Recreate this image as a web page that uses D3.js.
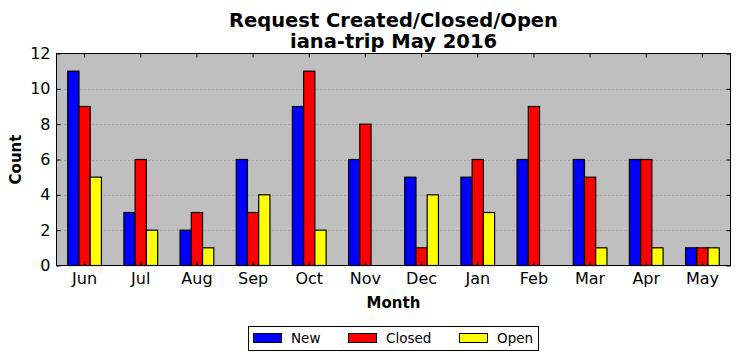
<!DOCTYPE html>
<html><head><meta charset="utf-8">
<script src="https://cdn.jsdelivr.net/npm/d3@7/dist/d3.min.js"></script>
<style>body{margin:0;background:#fff}svg{display:block;font-family:"DejaVu Sans",sans-serif}</style>
</head><body>
<svg id="c" width="740" height="361"></svg>
<script>
const months = ["Jun","Jul","Aug","Sep","Oct","Nov","Dec","Jan","Feb","Mar","Apr","May"];
const newVals    = [11, 3, 2, 6, 9, 6, 5, 5, 6, 6, 6, 1];
const closedVals = [ 9, 6, 3, 3,11, 8, 1, 6, 9, 5, 6, 1];
const openVals   = [ 5, 2, 1, 4, 2, 0, 4, 3, 0, 1, 1, 1];
const seriesNames = ["New","Closed","Open"];
const seriesColors = ["#0000ff","#ff0000","#ffff00"];
const yTicks = [0,2,4,6,8,10,12];
const titleLines = ["Request Created/Closed/Open","iana-trip May 2016"];

const svg = d3.select("#c");
const L=56.5, R=730.5, T=53.5, B=265.5;
const x = d3.scaleBand().domain(months).range([L,R]).paddingInner(0.4).paddingOuter(0.2);
const xs = d3.scaleBand().domain(seriesNames).range([0,x.bandwidth()]);
const y = d3.scaleLinear().domain([0,12]).range([B,T]);
const series = [newVals, closedVals, openVals];

svg.append("rect").attr("x",L).attr("y",T).attr("width",R-L).attr("height",B-T).attr("fill","#bfbfbf");
// grid
svg.append("g").selectAll("line").data(yTicks.filter(d=>d>0&&d<12)).join("line")
  .attr("x1",L).attr("x2",R).attr("y1",d=>Math.round(y(d))+0.5).attr("y2",d=>Math.round(y(d))+0.5)
  .attr("stroke","#8a8a8a").attr("stroke-width",1).attr("stroke-dasharray","1,3");
// bars
series.forEach((vals,si)=>{
  svg.append("g").selectAll("rect").data(vals).join("rect")
    .attr("x",(d,i)=>x(months[i])+xs(seriesNames[si]))
    .attr("y",d=>y(d)).attr("width",xs.bandwidth()).attr("height",d=>B-y(d))
    .attr("fill",seriesColors[si]).attr("stroke","#000").attr("stroke-width",1.2);
});
// axes
const xA = svg.append("g").attr("transform",`translate(0,${B})`)
  .call(d3.axisBottom(x).tickSizeInner(-4).tickSizeOuter(0).tickPadding(7));
const xT = svg.append("g").attr("transform",`translate(0,${T})`)
  .call(d3.axisTop(x).tickSizeInner(-4).tickSizeOuter(0).tickFormat(""));
const yA = svg.append("g").attr("transform",`translate(${L},0)`)
  .call(d3.axisLeft(y).tickValues(yTicks).tickSizeInner(-4).tickSizeOuter(0).tickPadding(6));
const yR = svg.append("g").attr("transform",`translate(${R},0)`)
  .call(d3.axisRight(y).tickValues(yTicks).tickSizeInner(-4).tickSizeOuter(0).tickFormat(""));
[xA,xT,yA,yR].forEach(g=>{g.select(".domain").remove();g.selectAll("line").attr("stroke","#000");
  g.selectAll("text").attr("font-size",16).attr("fill","#000").attr("font-family","DejaVu Sans");});
svg.append("rect").attr("x",L).attr("y",T).attr("width",R-L).attr("height",B-T).attr("fill","none").attr("stroke","#000").attr("stroke-width",1);

// titles
svg.append("text").attr("x",(L+R)/2).attr("y",27).attr("text-anchor","middle").attr("font-weight","bold").attr("font-size",19.5).text(titleLines[0]);
svg.append("text").attr("x",(L+R)/2).attr("y",48).attr("text-anchor","middle").attr("font-weight","bold").attr("font-size",19.5).text(titleLines[1]);
svg.append("text").attr("transform",`translate(21,${(T+B)/2}) rotate(-90)`).attr("text-anchor","middle").attr("font-weight","bold").attr("font-size",15).text("Count");
svg.append("text").attr("x",(L+R)/2).attr("y",308).attr("text-anchor","middle").attr("font-weight","bold").attr("font-size",15).text("Month");

// legend
const lg = svg.append("g");
lg.append("rect").attr("x",248.5).attr("y",326.5).attr("width",290).attr("height",24).attr("fill","#fff").attr("stroke","#000");
const lx = [253, 348, 459];
seriesNames.forEach((n,i)=>{
  lg.append("rect").attr("x",lx[i]+0.5).attr("y",333.5).attr("width",28).attr("height",9).attr("fill",seriesColors[i]).attr("stroke","#000");
  lg.append("text").attr("x",lx[i]+38).attr("y",343).attr("font-size",13.5).text(n);
});
</script>
</body></html>
